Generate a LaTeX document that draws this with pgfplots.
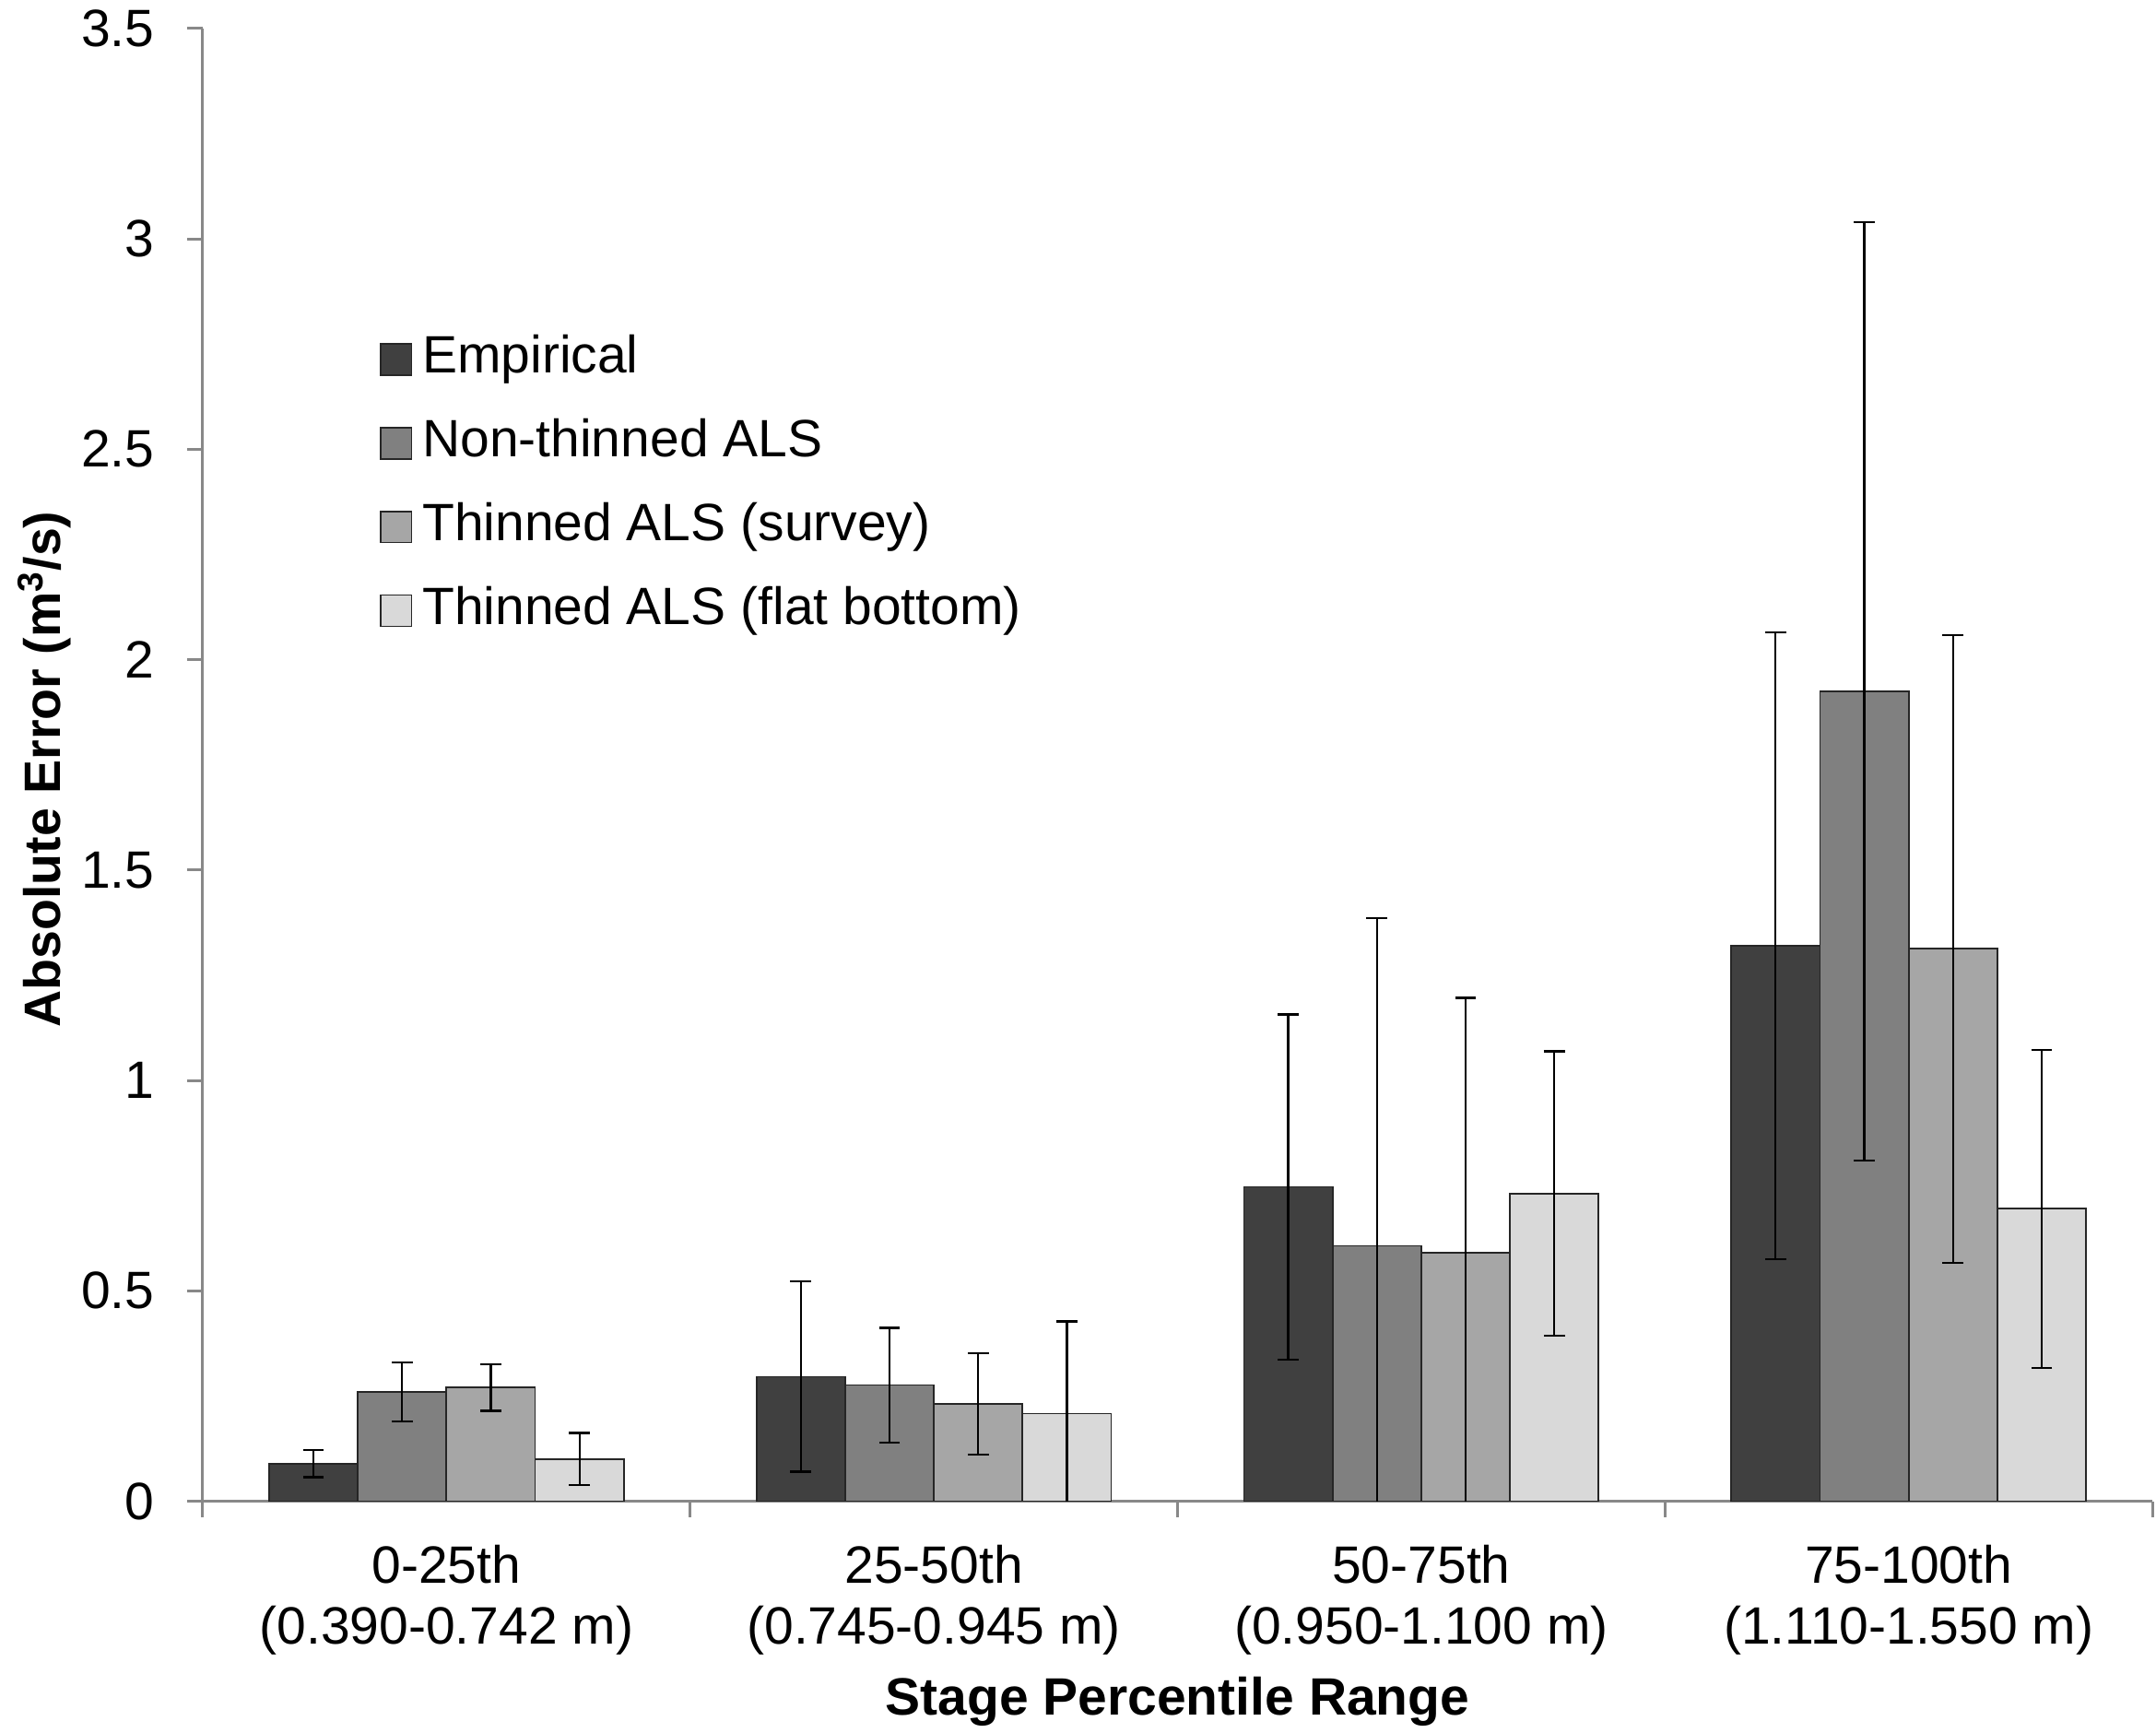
\documentclass[border=0pt]{standalone}
\usepackage{pgfplots}
\pgfplotsset{compat=1.18}
\usepackage{fontspec}
\setmainfont{Liberation Sans}
\definecolor{cEmp}{HTML}{404040}
\definecolor{cNon}{HTML}{808080}
\definecolor{cSur}{HTML}{A6A6A6}
\definecolor{cFlat}{HTML}{D9D9D9}
\definecolor{axgray}{HTML}{888888}
\begin{document}
\begin{tikzpicture}
\begin{axis}[
  at={(0,0)}, anchor=south west,
  scale only axis, width=705pt, height=532.5pt,
  font=\fontsize{19}{21.9}\selectfont,
  /pgf/number format/assume math mode=true,
  ybar=0pt, bar width=0.182,
  xmin=-0.5, xmax=3.5, ymin=0, ymax=3.5,
  axis x line=bottom, axis y line=left,
  axis line style={-, draw=axgray, line width=1pt},
  tick align=outside, major tick length=5.7pt,
  tick style={draw=axgray, line width=1pt},
  ytick={0,0.5,1,1.5,2,2.5,3,3.5},
  yticklabel style={anchor=east, inner sep=0pt, xshift=-11.6pt},
  xtick={-0.5,0.5,1.5,2.5,3.5}, xticklabels={},
  extra x ticks={0,1,2,3},
  extra x tick labels={{0-25th\\(0.390-0.742 m)},{25-50th\\(0.745-0.945 m)},{50-75th\\(0.950-1.100 m)},{75-100th\\(1.110-1.550 m)}},
  extra x tick style={major tick length=0pt, tick label style={align=center, anchor=north, inner sep=0pt, yshift=-15.8pt}},
  every axis x label/.style={at={(axis description cs:0.5,0)}, anchor=center, yshift=-72.5pt, font=\fontsize{19}{21.9}\selectfont\bfseries},
  every axis y label/.style={at={(rel axis cs:-0.0813,0.497)}, anchor=center, rotate=90, font=\fontsize{18.5}{21.9}\selectfont\bfseries},
  xlabel={Stage Percentile Range},
  ylabel={Absolute Error (m\textsuperscript{3}/s)},
  legend style={draw=none, fill=none, at={(rel axis cs:0.0904,0.690)}, anchor=west, inner sep=0pt, row sep=12.8pt, nodes={inner sep=0pt, text height=13.6pt, text depth=3.9pt}, /tikz/every odd column/.append style={column sep=3.6pt}},
  legend cell align=left,
  legend image code/.code={\draw[#1, draw=black!85, line width=0.6pt] (0pt,-5.65pt) rectangle (11.3pt,5.65pt);},
  error bars/y dir=both, error bars/y explicit,
  error bars/error bar style={black, line width=0.75pt},
  error bars/error mark options={rotate=90, black, line width=0.75pt, mark size=3.8pt},
  every axis plot/.append style={draw=black!85, line width=0.6pt},
]
\addplot[fill=cEmp] coordinates {(0,0.089) +- (0,0.032) (1,0.296) +- (0,0.226) (2,0.747) +- (0,0.410) (3,1.320) +- (0,0.745)};
\addplot[fill=cNon] coordinates {(0,0.259) +- (0,0.070) (1,0.276) +- (0,0.136) (2,0.607) +- (0,0.778) (3,1.925) +- (0,1.115)};
\addplot[fill=cSur] coordinates {(0,0.270) +- (0,0.055) (1,0.231) +- (0,0.121) (2,0.590) +- (0,0.606) (3,1.313) +- (0,0.746)};
\addplot[fill=cFlat] coordinates {(0,0.100) +- (0,0.062) (1,0.208) +- (0,0.219) (2,0.731) +- (0,0.338) (3,0.695) +- (0,0.378)};
\legend{Empirical, Non-thinned ALS, Thinned ALS (survey), Thinned ALS (flat bottom)}
\end{axis}
\pgfresetboundingbox
\useasboundingbox (-73.3pt,-83.5pt) rectangle (706.3pt,542.8pt);
\end{tikzpicture}
\end{document}
